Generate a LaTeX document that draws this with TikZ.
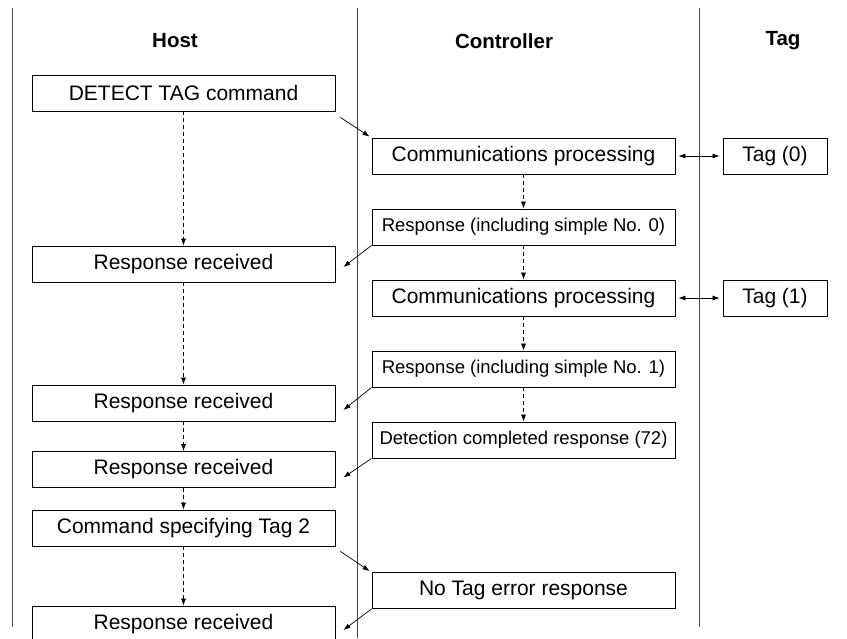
\documentclass[tikz,border=0pt]{standalone}
\usepackage{fontspec}
\setmainfont{Liberation Sans}
\usepackage{tikz}
\usetikzlibrary{arrows.meta, positioning}
\definecolor{lanegray}{RGB}{70,70,70}

\begin{document}
\begin{tikzpicture}[x=1pt, y=-1pt,
  box/.style={draw, line width=0.8pt, minimum width=303pt, minimum height=36pt, inner sep=0pt, font=\fontsize{21}{24}\selectfont},
  smallbox/.style={box, font=\fontsize{18.5}{22}\selectfont},
  tagbox/.style={box, minimum width=104pt},
  head/.style={font=\fontsize{20.5}{24}\selectfont\bfseries},
  lane/.style={draw=lanegray, line width=0.8pt},
  flow/.style={-{Latex[length=7pt,width=5pt]}, line width=0.7pt},
  next/.style={flow, dashed, dash pattern=on 4pt off 3pt}]
  \useasboundingbox (0,0) rectangle (847,638);
  % swim lanes
  \draw[lane] (12,8) -- (12,627);
  \draw[lane] (357,8) -- (357,638);
  \draw[lane] (699,8) -- (699,627);
  \node[head] (hhost) at (175,41) {Host};
  \node[head] (hctrl) at (504,41) {Controller};
  \node[head] (htag) at (783,41) {Tag};
  % host column
  \node[box] (detect) at (183.5,93) {DETECT TAG command};
  \node[box] (recv1) at (183.5,264) {Response received};
  \node[box] (recv2) at (183.5,403) {Response received};
  \node[box] (recv3) at (183.5,469.5) {Response received};
  \node[box] (cmd2) at (183.5,528) {Command specifying Tag 2};
  \node[box] (recv4) at (183.5,624) {Response received};
  % controller column
  \node[box] (proc0) at (523.5,156) {Communications processing};
  \node[smallbox] (resp0) at (523.5,227) {Response (including simple No. 0)};
  \node[box] (proc1) at (523.5,298) {Communications processing};
  \node[smallbox] (resp1) at (523.5,369) {Response (including simple No. 1)};
  \node[smallbox] (done) at (523.5,440) {Detection completed response (72)};
  \node[box] (notag) at (523.5,590.5) {No Tag error response};
  % tag column
  \node[tagbox] (tag0) at (775,156) {Tag (0)};
  \node[tagbox] (tag1) at (775,298) {Tag (1)};
  % dashed sequence arrows
  \draw[next] (detect) -- (recv1);
  \draw[next] (recv1) -- (recv2);
  \draw[next] (recv2) -- (recv3);
  \draw[next] (recv3) -- (cmd2);
  \draw[next] (cmd2) -- (recv4);
  \draw[next] (proc0) -- (resp0);
  \draw[next] (resp0) -- (proc1);
  \draw[next] (proc1) -- (resp1);
  \draw[next] (resp1) -- (done);
  % messages between columns
  \draw[flow] ([shift={(5,6)}]detect.south east) -- ([shift={(-2,-1)}]proc0.north west);
  \draw[flow] ([shift={(5,5)}]cmd2.south east) -- ([shift={(-2,-1)}]notag.north west);
  \draw[flow] (resp0.south west) -- ([shift={(8,3)}]recv1.east);
  \draw[flow] (resp1.south west) -- ([shift={(8,7)}]recv2.east);
  \draw[flow] (done.south west) -- ([shift={(8,8)}]recv3.east);
  \draw[flow] (notag.south west) -- ([shift={(8,6)}]recv4.east);
  \draw[flow, {Latex[length=7pt,width=5pt]}-{Latex[length=7pt,width=5pt]}] ([xshift=3pt]proc0.east) -- ([xshift=-3pt]tag0.west);
  \draw[flow, {Latex[length=7pt,width=5pt]}-{Latex[length=7pt,width=5pt]}] ([xshift=3pt]proc1.east) -- ([xshift=-3pt]tag1.west);
\end{tikzpicture}
\end{document}
